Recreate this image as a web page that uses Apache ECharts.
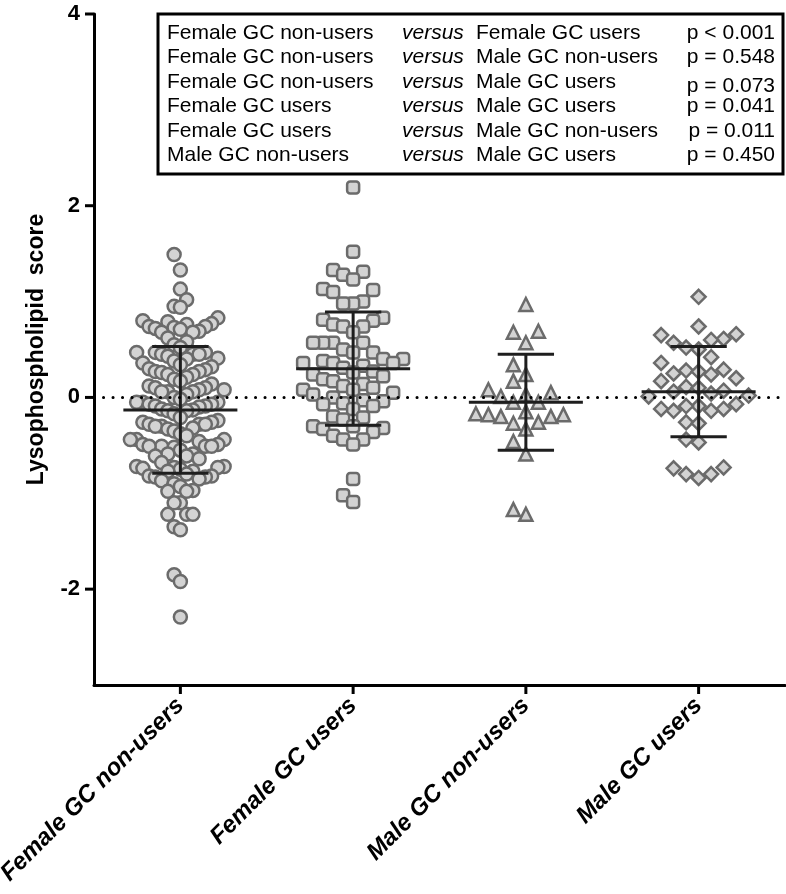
<!DOCTYPE html>
<html>
<head>
<meta charset="utf-8">
<script src="https://cdn.jsdelivr.net/npm/echarts@6/dist/echarts.min.js"></script>
<style>
  html, body { margin: 0; padding: 0; background: #fff; }
  #chart { width: 786px; height: 894px; }
</style>
</head>
<body>
<div id="chart"></div>
<script>
// groups on the x axis
const categories = ['Female GC non-users', 'Female GC users', 'Male GC non-users', 'Male GC users'];
const yTicks = [-2, 0, 2, 4];

// individual scores
const femaleNonUsers = [
  1.49, 1.33, 1.13, 1.02, 0.95, 0.94,
  0.83, 0.80, 0.79, 0.77, 0.76, 0.74, 0.74, 0.73, 0.72, 0.71, 0.69, 0.68, 0.68, 0.62, 0.58, 0.55, 0.52,
  0.47, 0.47, 0.47, 0.45, 0.45, 0.45, 0.43, 0.41, 0.40, 0.38, 0.36,
  0.34, 0.32, 0.30, 0.29, 0.27, 0.27, 0.26, 0.24, 0.24, 0.21, 0.19,
  0.17, 0.14, 0.12, 0.10, 0.10, 0.08, 0.08, 0.06, 0.06, 0.06, 0.03, 0.00, -0.02,
  -0.05, -0.05, -0.05, -0.07, -0.07, -0.09, -0.09, -0.10, -0.12, -0.13, -0.14, -0.14, -0.17,
  -0.21, -0.24, -0.26, -0.26, -0.28, -0.28, -0.28, -0.30, -0.30, -0.32, -0.33, -0.35, -0.38,
  -0.40, -0.44, -0.44, -0.44, -0.46, -0.49, -0.49, -0.51, -0.51, -0.51, -0.51, -0.52, -0.55,
  -0.59, -0.59, -0.61, -0.61, -0.64, -0.68,
  -0.72, -0.72, -0.73, -0.73, -0.74, -0.75, -0.77, -0.77, -0.80, -0.82, -0.82, -0.83, -0.83, -0.85, -0.87, -0.90, -0.93,
  -0.97, -0.98, -0.98, -1.10, -1.10, -1.22, -1.22, -1.22, -1.35, -1.38, -1.85, -1.92, -2.29
];
const femaleUsers = [
  2.19, 1.52, 1.33, 1.31, 1.28, 1.23, 1.13, 1.12, 1.10, 1.00, 0.98, 0.98,
  0.83, 0.81, 0.80, 0.76, 0.74, 0.74, 0.68,
  0.57, 0.57, 0.57, 0.57, 0.50, 0.47, 0.47,
  0.40, 0.40, 0.38, 0.36, 0.36, 0.36, 0.33, 0.31,
  0.27, 0.26, 0.24, 0.22, 0.19, 0.17, 0.14, 0.12,
  0.10, 0.08, 0.08, 0.05, 0.03, 0.00, -0.03, -0.04,
  -0.06, -0.07, -0.09, -0.12,
  -0.20, -0.21, -0.23,
  -0.30, -0.30, -0.32, -0.33, -0.36, -0.40, -0.44, -0.44, -0.49,
  -0.85, -1.02, -1.09
];
const maleNonUsers = [
  0.97, 0.69, 0.68, 0.57, 0.34, 0.24, 0.17, 0.08, 0.05, 0.03, 0.01, -0.05, -0.05,
  -0.15, -0.17, -0.18, -0.18, -0.20, -0.20, -0.26, -0.27, -0.33, -0.46, -0.59, -1.17, -1.22
];
const maleUsers = [
  1.05, 0.74, 0.66, 0.65, 0.61, 0.60, 0.57, 0.52, 0.50, 0.42,
  0.36, 0.29, 0.28, 0.27, 0.25, 0.24, 0.20, 0.17,
  0.11, 0.10, 0.07, 0.06, 0.04, 0.02, 0.01,
  -0.07, -0.09, -0.09, -0.12, -0.12, -0.14, -0.14,
  -0.26, -0.27, -0.44, -0.47,
  -0.73, -0.74, -0.80, -0.80, -0.84
];

// mean and SD bars as drawn
const groupMeans = [-0.13, 0.30, -0.05, 0.06];
const groupSDs = [0.66, 0.59, 0.50, 0.47];

// comparison table in the top box
const compareLeft = ['Female GC non-users', 'Female GC non-users', 'Female GC non-users', 'Female GC users', 'Female GC users', 'Male GC non-users'];
const compareRight = ['Female GC users', 'Male GC non-users', 'Male GC users', 'Male GC users', 'Male GC non-users', 'Male GC users'];
const pValues = ['p < 0.001', 'p = 0.548', 'p = 0.073', 'p = 0.041', 'p = 0.011', 'p = 0.450'];

const FONT = '"Liberation Sans", Arial, sans-serif';
const groups = [femaleNonUsers, femaleUsers, maleNonUsers, maleUsers];
const symbols = ['circle', 'roundRect', 'triangle', 'diamond'];
const symbolSizes = [13, 12, 13, 14];

// prism-like column scatter: sort ascending, fill slots centre-out,
// a slot is reused once the value has moved a row away
function swarmOffsets(vals, rowGap, halfWidth, maxStep) {
  const order = vals.map((v, i) => i).sort((a, b) => vals[a] - vals[b]);
  const slots = new Array(vals.length);
  const placed = [];
  order.forEach(i => {
    const v = vals[i];
    for (let k = 0; ; k++) {
      const s = k === 0 ? 0 : (k % 2 ? -(k + 1) / 2 : k / 2);
      if (!placed.some(p => p.slot === s && Math.abs(p.v - v) < rowGap)) {
        slots[i] = s;
        placed.push({ slot: s, v });
        break;
      }
    }
  });
  const maxSlot = Math.max(1, ...slots.map(Math.abs));
  const step = Math.min(maxStep, halfWidth / maxSlot);
  return slots.map(s => s * step);
}

const chart = echarts.init(document.getElementById('chart'));

const scatterSeries = groups.map((vals, gi) => {
  const offs = swarmOffsets(vals, 0.17, 50, 15);
  return {
    type: 'scatter',
    z: 2,
    symbol: symbols[gi],
    symbolSize: symbolSizes[gi],
    itemStyle: { color: '#d3d3d3', borderColor: '#6b6b6b', borderWidth: 2.5, opacity: 1 },
    data: vals.map((v, i) => ({ value: [gi, v], symbolOffset: [offs[i], 0] }))
  };
});

const tableGraphics = [{
  type: 'rect',
  shape: { x: 158, y: 14, width: 625, height: 160 },
  style: { fill: '#fff', stroke: '#000', lineWidth: 3 },
  z: 10
}];
compareLeft.forEach((t, r) => {
  const y = 33 + r * 24.5;
  tableGraphics.push(
    { type: 'text', z: 11, style: { text: t, x: 167, y, font: '21px ' + FONT, fill: '#000', textAlign: 'left', textVerticalAlign: 'middle' } },
    { type: 'text', z: 11, style: { text: 'versus', x: 402, y, font: 'italic 21px ' + FONT, fill: '#000', textAlign: 'left', textVerticalAlign: 'middle' } },
    { type: 'text', z: 11, style: { text: compareRight[r], x: 476, y, font: '21px ' + FONT, fill: '#000', textAlign: 'left', textVerticalAlign: 'middle' } },
    { type: 'text', z: 11, style: { text: pValues[r], x: 775, y: r === 2 ? y + 4 : y, font: '21px ' + FONT, fill: '#000', textAlign: 'right', textVerticalAlign: 'middle' } }
  );
});

const option = {
  animation: false,
  backgroundColor: '#fff',
  grid: { left: 94, right: 1, top: 14, bottom: 209, containLabel: false, outerBoundsMode: 'none' },
  xAxis: {
    type: 'category',
    data: categories,
    boundaryGap: true,
    axisLine: { onZero: false, lineStyle: { color: '#000', width: 3 } },
    axisTick: { show: false },
    axisLabel: {
      rotate: 45,
      margin: 17,
      color: '#000',
      fontFamily: FONT,
      fontSize: 24,
      fontWeight: 'bold',
      fontStyle: 'italic'
    },
    splitLine: { show: false }
  },
  yAxis: {
    type: 'value',
    min: -3,
    max: 4,
    name: 'Lysophospholipid  score',
    nameLocation: 'middle',
    nameGap: 46,
    nameTextStyle: { color: '#000', fontFamily: FONT, fontSize: 23, fontWeight: 'bold' },
    axisLine: { show: true, lineStyle: { color: '#000', width: 3 } },
    axisTick: { show: false },
    axisLabel: {
      customValues: yTicks,
      margin: 14,
      color: '#000',
      fontFamily: FONT,
      fontSize: 22,
      fontWeight: 'bold'
    },
    splitLine: { show: false }
  },
  graphic: tableGraphics,
  series: [
    {
      type: 'line',
      data: [],
      z: 1,
      silent: true,
      markLine: {
        silent: true,
        symbol: 'none',
        label: { show: false },
        lineStyle: { color: '#000', width: 3, type: [0.1, 9.4], cap: 'round' },
        data: [{ yAxis: 0 }]
      }
    },
    ...scatterSeries,
    {
      // mean +/- SD bars
      type: 'custom',
      z: 3,
      silent: true,
      data: groupMeans.map((m, i) => [i, m, groupSDs[i]]),
      renderItem: (params, api) => {
        const i = api.value(0), m = api.value(1), s = api.value(2);
        const mid = api.coord([i, m]);
        const top = api.coord([i, m + s]);
        const bot = api.coord([i, m - s]);
        const bw = api.size([1, 0])[0];
        const meanHalf = bw * 0.33, capHalf = bw * 0.163;
        const st = { stroke: '#1e1e1e', lineWidth: 3 };
        const line = (x1, y1, x2, y2) => ({ type: 'line', shape: { x1, y1, x2, y2 }, style: st });
        return {
          type: 'group',
          children: [
            line(mid[0], top[1], mid[0], bot[1]),
            line(mid[0] - meanHalf, mid[1], mid[0] + meanHalf, mid[1]),
            line(mid[0] - capHalf, top[1], mid[0] + capHalf, top[1]),
            line(mid[0] - capHalf, bot[1], mid[0] + capHalf, bot[1])
          ]
        };
      }
    },
    {
      // y axis ticks at the labelled values only
      type: 'custom',
      z: 3,
      silent: true,
      clip: false,
      data: yTicks.map(v => [0, v]),
      renderItem: (params, api) => {
        const y = api.coord([0, api.value(1)])[1];
        const x0 = params.coordSys.x;
        return { type: 'line', shape: { x1: x0 - 9, y1: y, x2: x0, y2: y }, style: { stroke: '#000', lineWidth: 3 } };
      }
    },
    {
      // x axis ticks under each group
      type: 'custom',
      z: 3,
      silent: true,
      clip: false,
      data: categories.map((c, i) => [i, 0]),
      renderItem: (params, api) => {
        const x = api.coord([api.value(0), 0])[0];
        const y0 = params.coordSys.y + params.coordSys.height;
        return { type: 'line', shape: { x1: x, y1: y0, x2: x, y2: y0 + 9 }, style: { stroke: '#000', lineWidth: 3 } };
      }
    }
  ]
};

chart.setOption(option);
</script>
</body>
</html>
